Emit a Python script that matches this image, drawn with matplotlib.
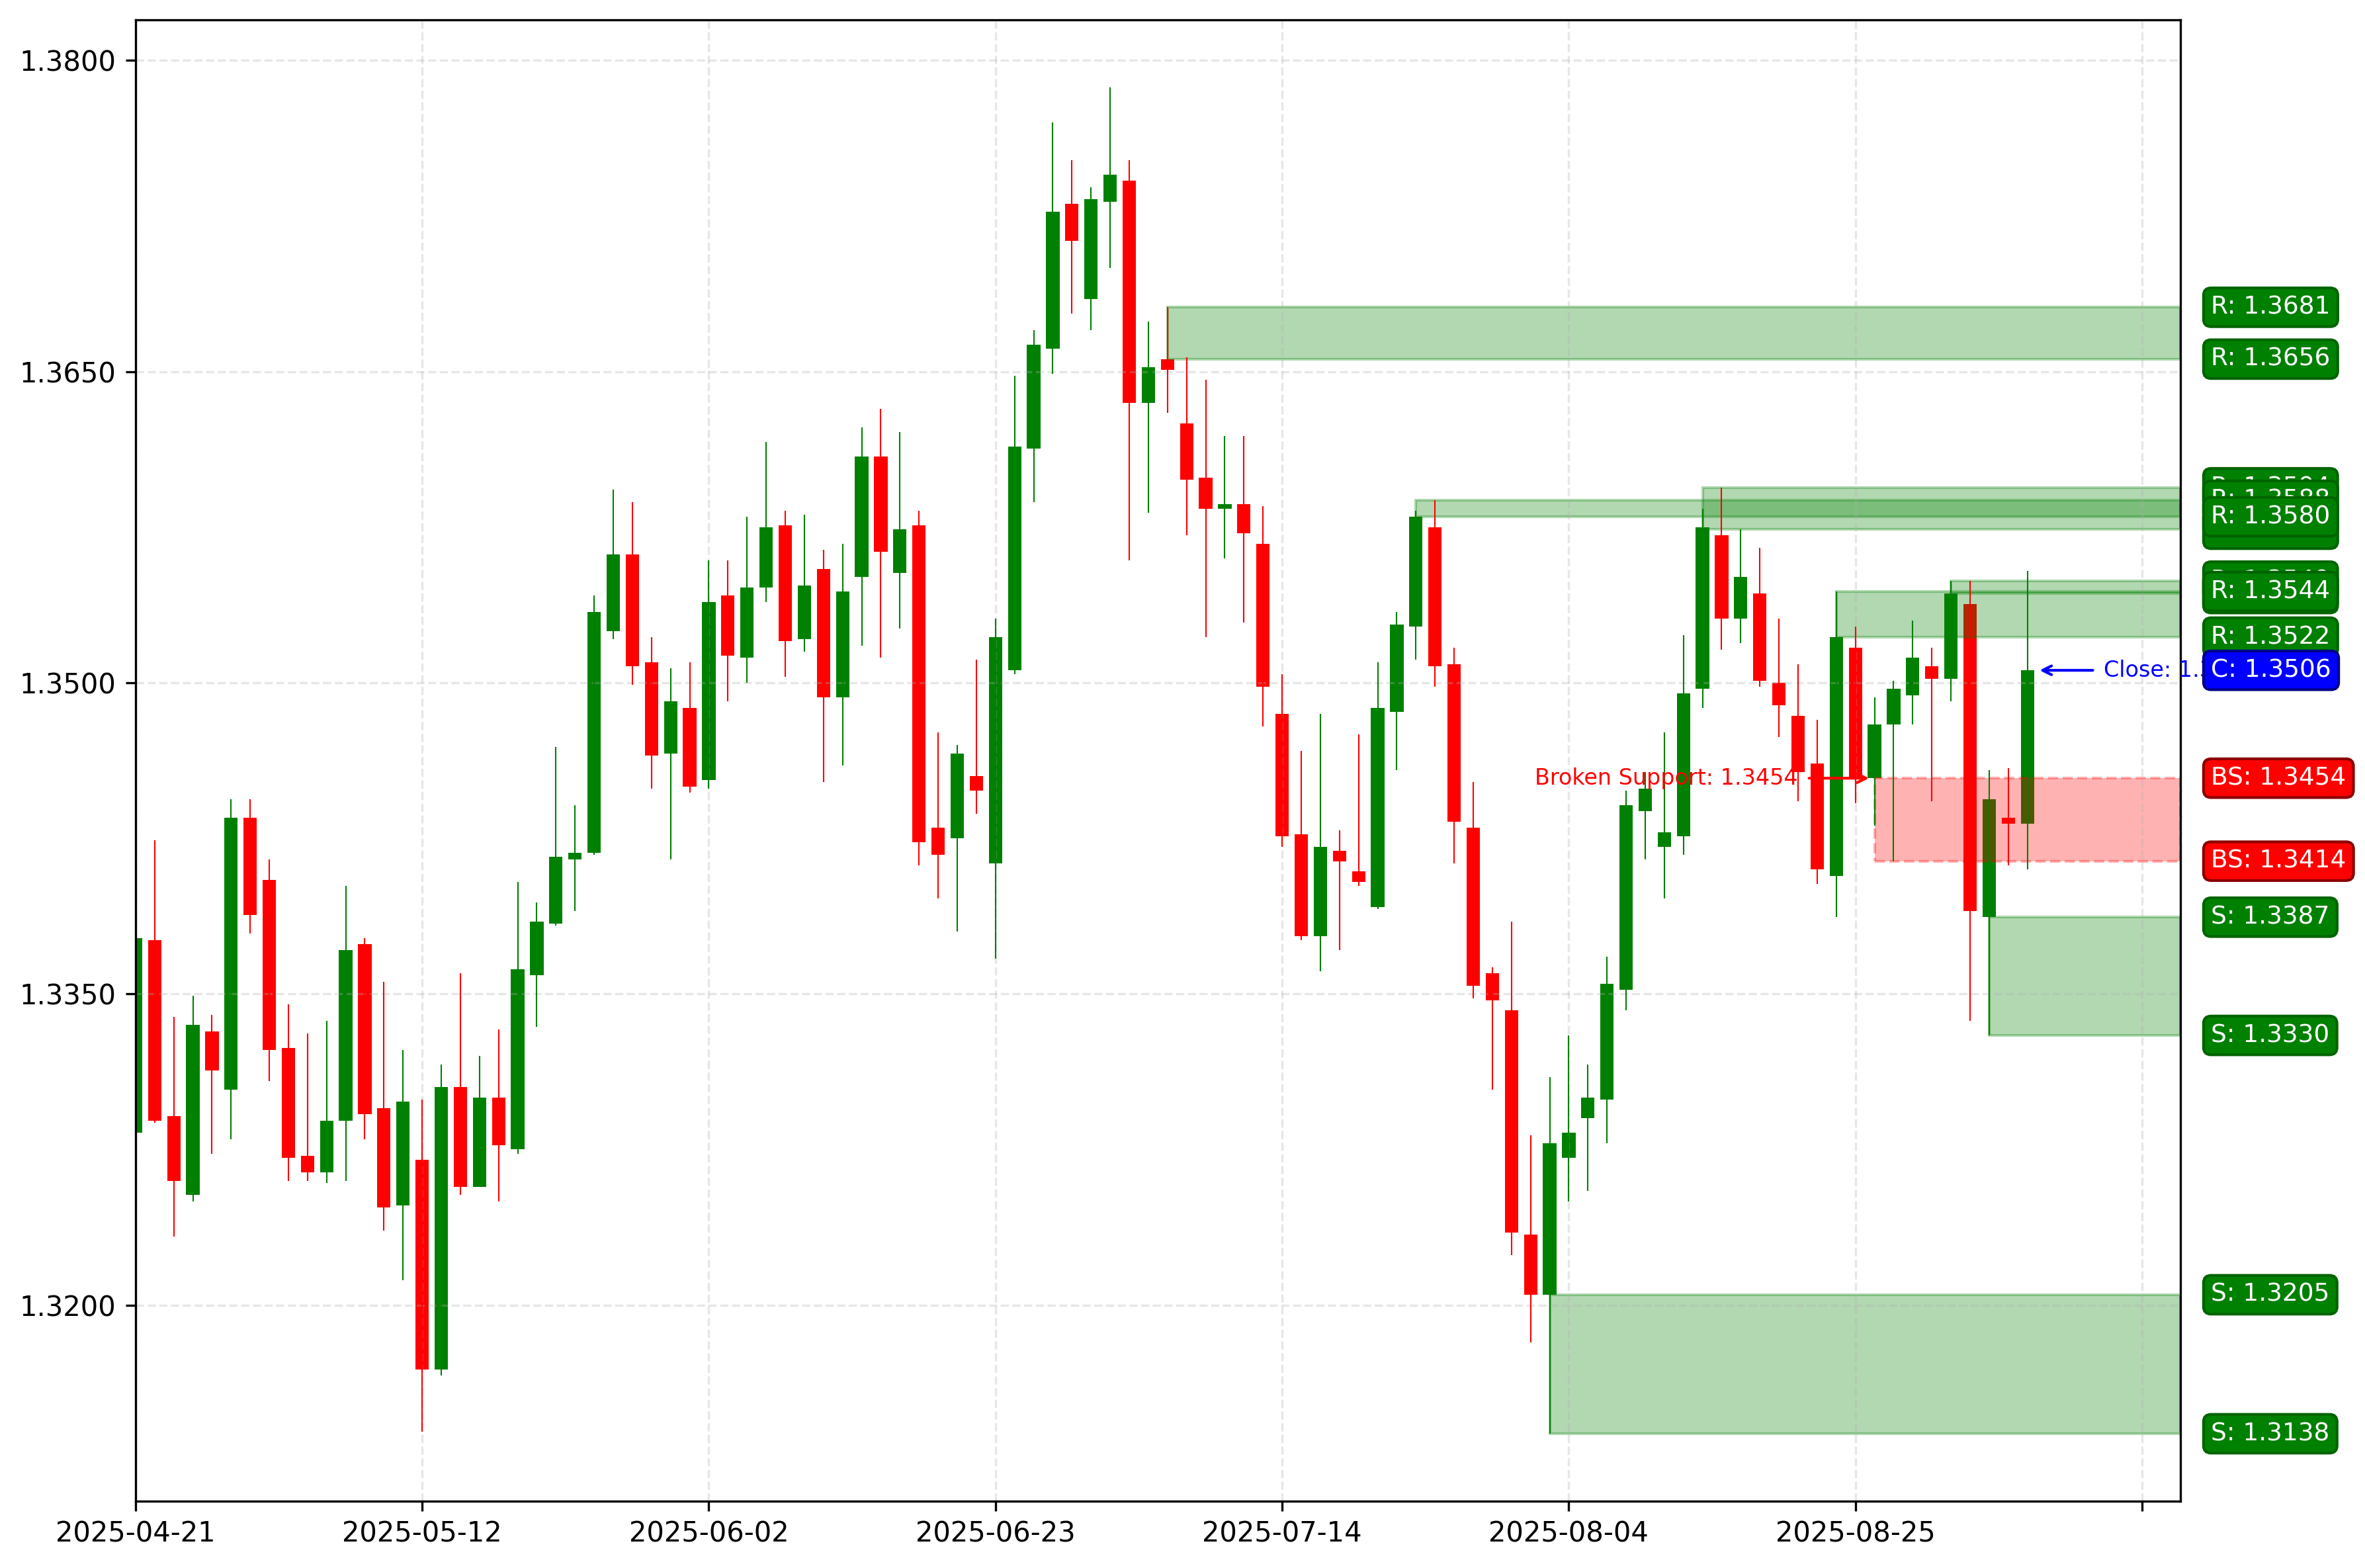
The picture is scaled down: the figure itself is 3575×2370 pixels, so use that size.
import matplotlib
matplotlib.use("Agg")
import matplotlib.pyplot as plt
from matplotlib.patches import Rectangle
from matplotlib.ticker import FormatStrFormatter

# Daily OHLC (one candle per trading day from 2025-04-21)
opens = [1.3283, 1.3376, 1.3291, 1.3253, 1.3332, 1.3304, 1.3435, 1.3405, 1.3324, 1.3272,
         1.3264, 1.3289, 1.3374, 1.3295, 1.3248, 1.3270, 1.3169, 1.3305, 1.3257, 1.3300,
         1.3275, 1.3359, 1.3384, 1.3415, 1.3418, 1.3525, 1.3562, 1.3510, 1.3466, 1.3488,
         1.3453, 1.3542, 1.3512, 1.3546, 1.3576, 1.3521, 1.3555, 1.3493, 1.3551, 1.3609,
         1.3553, 1.3576, 1.3430, 1.3425, 1.3455, 1.3413, 1.3506, 1.3613, 1.3661, 1.3731,
         1.3685, 1.3732, 1.3742, 1.3635, 1.3656, 1.3625, 1.3599, 1.3584, 1.3586, 1.3567,
         1.3485, 1.3427, 1.3378, 1.3419, 1.3409, 1.3392, 1.3486, 1.3527, 1.3575, 1.3509,
         1.3430, 1.3360, 1.3342, 1.3234, 1.3205, 1.3271, 1.3290, 1.3299, 1.3352, 1.3438,
         1.3421, 1.3426, 1.3497, 1.3571, 1.3531, 1.3543, 1.3500, 1.3484, 1.3461, 1.3407,
         1.3517, 1.3454, 1.3480, 1.3494, 1.3508, 1.3502, 1.3538, 1.3387, 1.3435, 1.3432]
highs = [1.3378, 1.3424, 1.3339, 1.3349, 1.3340, 1.3444, 1.3444, 1.3415, 1.3345, 1.3331,
         1.3337, 1.3402, 1.3377, 1.3356, 1.3323, 1.3299, 1.3316, 1.3360, 1.3320, 1.3333,
         1.3404, 1.3394, 1.3469, 1.3441, 1.3542, 1.3593, 1.3587, 1.3522, 1.3507, 1.3510,
         1.3559, 1.3559, 1.3580, 1.3616, 1.3583, 1.3581, 1.3564, 1.3567, 1.3623, 1.3632,
         1.3621, 1.3583, 1.3476, 1.3470, 1.3511, 1.3531, 1.3648, 1.3670, 1.3770, 1.3752,
         1.3739, 1.3787, 1.3752, 1.3674, 1.3681, 1.3657, 1.3646, 1.3619, 1.3619, 1.3585,
         1.3504, 1.3467, 1.3485, 1.3429, 1.3475, 1.3510, 1.3534, 1.3583, 1.3588, 1.3517,
         1.3452, 1.3363, 1.3385, 1.3282, 1.3310, 1.3330, 1.3316, 1.3368, 1.3448, 1.3457,
         1.3476, 1.3523, 1.3584, 1.3594, 1.3574, 1.3565, 1.3531, 1.3509, 1.3482, 1.3544,
         1.3527, 1.3493, 1.3501, 1.3530, 1.3517, 1.3549, 1.3549, 1.3458, 1.3459, 1.3554]
lows = [1.3282, 1.3288, 1.3233, 1.3250, 1.3273, 1.3280, 1.3379, 1.3308, 1.3260, 1.3260,
        1.3259, 1.3260, 1.3280, 1.3236, 1.3212, 1.3139, 1.3166, 1.3253, 1.3257, 1.3250,
        1.3273, 1.3334, 1.3383, 1.3390, 1.3417, 1.3521, 1.3499, 1.3449, 1.3415, 1.3447,
        1.3449, 1.3491, 1.3500, 1.3539, 1.3503, 1.3515, 1.3452, 1.3460, 1.3518, 1.3512,
        1.3526, 1.3412, 1.3396, 1.3380, 1.3437, 1.3367, 1.3504, 1.3587, 1.3649, 1.3678,
        1.3670, 1.3700, 1.3559, 1.3582, 1.3630, 1.3571, 1.3522, 1.3560, 1.3529, 1.3479,
        1.3421, 1.3376, 1.3361, 1.3371, 1.3402, 1.3391, 1.3458, 1.3511, 1.3498, 1.3413,
        1.3348, 1.3304, 1.3224, 1.3182, 1.3138, 1.3250, 1.3255, 1.3278, 1.3342, 1.3415,
        1.3396, 1.3417, 1.3488, 1.3516, 1.3519, 1.3498, 1.3474, 1.3443, 1.3403, 1.3387,
        1.3442, 1.3431, 1.3414, 1.3480, 1.3443, 1.3491, 1.3337, 1.3330, 1.3412, 1.3410]
closes = [1.3377, 1.3289, 1.3260, 1.3335, 1.3313, 1.3435, 1.3388, 1.3323, 1.3271, 1.3264,
          1.3289, 1.3371, 1.3292, 1.3247, 1.3298, 1.3169, 1.3305, 1.3257, 1.3300, 1.3277,
          1.3362, 1.3385, 1.3416, 1.3418, 1.3534, 1.3562, 1.3508, 1.3465, 1.3491, 1.3450,
          1.3539, 1.3513, 1.3546, 1.3575, 1.3520, 1.3547, 1.3493, 1.3544, 1.3609, 1.3563,
          1.3574, 1.3423, 1.3417, 1.3466, 1.3448, 1.3522, 1.3614, 1.3663, 1.3727, 1.3713,
          1.3733, 1.3745, 1.3635, 1.3652, 1.3651, 1.3598, 1.3584, 1.3586, 1.3572, 1.3498,
          1.3426, 1.3378, 1.3421, 1.3414, 1.3404, 1.3488, 1.3528, 1.3580, 1.3508, 1.3433,
          1.3354, 1.3347, 1.3235, 1.3205, 1.3278, 1.3283, 1.3300, 1.3355, 1.3441, 1.3449,
          1.3428, 1.3495, 1.3575, 1.3531, 1.3551, 1.3501, 1.3489, 1.3457, 1.3410, 1.3522,
          1.3454, 1.3480, 1.3497, 1.3512, 1.3502, 1.3543, 1.3390, 1.3444, 1.3432, 1.3506]

tick_labels = ["2025-04-21", "2025-05-12", "2025-06-02", "2025-06-23",
               "2025-07-14", "2025-08-04", "2025-08-25", ""]

# resistance zones (newest first, as drawn)
res_start = [95, 89, 82, 67, 54]
res_low = [1.3543, 1.3522, 1.3574, 1.3580, 1.3656]
res_high = [1.3549, 1.3544, 1.3594, 1.3588, 1.3681]

# support zones
sup_start = [97, 74]
sup_low = [1.3330, 1.3138]
sup_high = [1.3387, 1.3205]

# broken support zone
bs_start = 91
bs_low = 1.3414
bs_high = 1.3454

last_close = closes[-1]


def main():
    n = len(opens)
    x_right = n + 7

    fig = plt.figure(figsize=(3575 / 300, 2370 / 300), dpi=300)
    ax = fig.add_axes([0.0573, 0.0427, 0.8646, 0.9445])

    xs = list(range(n))
    colors = ["green" if c >= o else "red" for o, c in zip(opens, closes)]
    bottoms = [min(o, c) for o, c in zip(opens, closes)]
    heights = [abs(c - o) for o, c in zip(opens, closes)]

    # candle bodies
    ax.bar(xs, heights, width=0.7, bottom=bottoms, color=colors)

    # zones
    for s, lo, hi in zip(res_start, res_low, res_high):
        ax.add_patch(Rectangle((s, lo), x_right - s, hi - lo,
                               facecolor="green", edgecolor="green", alpha=0.3))
    for s, lo, hi in zip(sup_start, sup_low, sup_high):
        ax.add_patch(Rectangle((s, lo), x_right - s, hi - lo,
                               facecolor="green", edgecolor="green", alpha=0.3))
    ax.add_patch(Rectangle((bs_start, bs_low), x_right - bs_start, bs_high - bs_low,
                           facecolor="red", edgecolor="red", alpha=0.3, linestyle="--"))

    # wicks
    ax.vlines(xs, lows, highs, colors=colors, linewidth=0.5)

    # annotations
    ax.annotate(f"Broken Support: {bs_high:.4f}", xy=(bs_start, bs_high),
                xytext=(bs_start - 4, bs_high), color="red", fontsize=8,
                ha="right", va="center",
                arrowprops=dict(arrowstyle="->", color="red", lw=1))
    ax.annotate(f"Close: {last_close:.4f}", xy=(n - 1 + 0.35, last_close),
                xytext=(n - 1 + 4, last_close), color="blue", fontsize=8,
                ha="left", va="center",
                arrowprops=dict(arrowstyle="->", color="blue", lw=1))

    # side labels
    trans = ax.get_yaxis_transform()

    def side_label(price, prefix, face, edge):
        ax.text(1.015, price, f"{prefix}: {price:.4f}", transform=trans,
                fontsize=9, color="white", ha="left", va="center",
                bbox=dict(boxstyle="round,pad=0.3", facecolor=face, edgecolor=edge))

    for lo, hi in zip(res_low, res_high):
        side_label(hi, "R", "green", "darkgreen")
        side_label(lo, "R", "green", "darkgreen")
    side_label(bs_high, "BS", "red", "darkred")
    side_label(bs_low, "BS", "red", "darkred")
    for lo, hi in zip(sup_low, sup_high):
        side_label(hi, "S", "green", "darkgreen")
        side_label(lo, "S", "green", "darkgreen")
    side_label(last_close, "C", "blue", "darkblue")

    # axes
    lo_all = min(min(lows), min(sup_low))
    hi_all = max(max(highs), max(res_high))
    pad = 0.05 * (hi_all - lo_all)
    ax.set_ylim(lo_all - pad, hi_all + pad)
    ax.set_xlim(0, x_right)

    ax.set_yticks([1.32, 1.335, 1.35, 1.365, 1.38])
    ax.yaxis.set_major_formatter(FormatStrFormatter("%.4f"))
    ax.set_xticks(list(range(0, n + 6, 15)))
    ax.set_xticklabels(tick_labels)
    ax.grid(True, alpha=0.3, linestyle="--")

    fig.savefig("out.png", dpi=300)
    plt.close(fig)


if __name__ == "__main__":
    main()
